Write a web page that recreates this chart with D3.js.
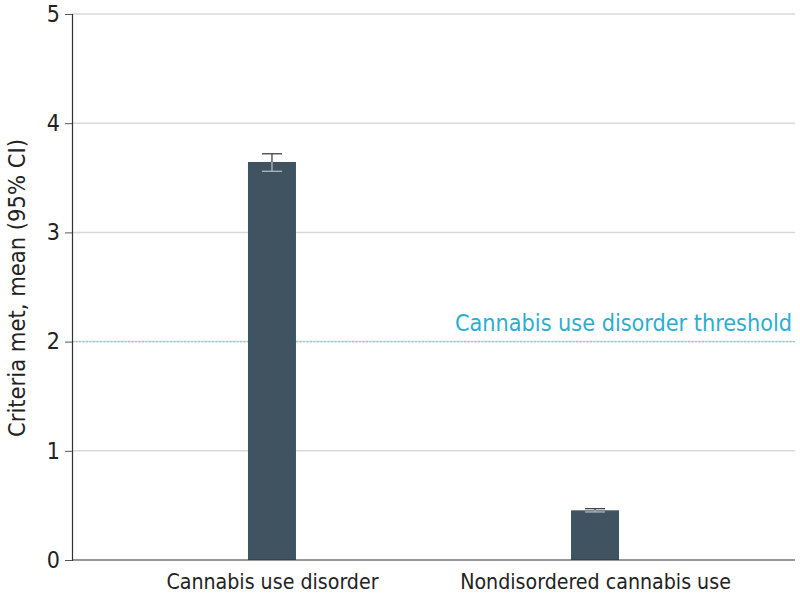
<!DOCTYPE html>
<html lang="en">
<head>
    <meta charset="UTF-8">
    <title>Criteria met</title>
    <style>
    body { margin: 0; background: #fff; }
    text { font-family: "Liberation Sans Narrow", "DejaVu Sans Condensed", "Roboto", sans-serif; }
    </style>
    <script src="https://cdn.jsdelivr.net/npm/d3@7"></script>
</head>
<body>
    <svg width="800" height="598"></svg>
    <script>
        var categories = ["Cannabis use disorder", "Nondisordered cannabis use"];
        var means = [3.645, 0.455];
        var ciLow = [3.56, 0.44];
        var ciHigh = [3.72, 0.47];
        var yTicks = [0, 1, 2, 3, 4, 5];
        var threshold = 2;
        var thresholdLabel = "Cannabis use disorder threshold";

        var svg = d3.select("svg"),
            mLeft = 72, mRight = 795, mTop = 14, mBottom = 560;

        var x = d3.scalePoint().domain(categories).range([mLeft, mRight]).padding(0.619);
        var y = d3.scaleLinear().domain([0, 5]).range([mBottom, mTop]);
        var barW = 48;

        // grid
        svg.append("g").selectAll("line").data(yTicks.filter(function(d) { return d > 0; }))
            .enter().append("line")
            .attr("x1", mLeft).attr("x2", mRight)
            .attr("y1", function(d) { return y(d); }).attr("y2", function(d) { return y(d); })
            .attr("stroke", "#d9d9d9").attr("stroke-width", 1.5);

        // threshold
        svg.append("line")
            .attr("x1", mLeft).attr("x2", mRight)
            .attr("y1", y(threshold)).attr("y2", y(threshold))
            .attr("stroke", "#8fc6d8").attr("stroke-width", 1.2)
            .attr("stroke-dasharray", "2,1.5");
        svg.append("text")
            .attr("x", 792).attr("y", y(threshold) - 11)
            .attr("text-anchor", "end")
            .attr("fill", "#2aaed3")
            .attr("font-size", 23.2)
            .text(thresholdLabel);

        // bars
        svg.append("g").selectAll("rect").data(categories)
            .enter().append("rect")
            .attr("x", function(d) { return x(d) - barW / 2; })
            .attr("width", barW)
            .attr("y", function(d, i) { return y(means[i]); })
            .attr("height", function(d, i) { return mBottom - y(means[i]); })
            .attr("fill", "#3f5361");

        // error bars
        var eb = svg.append("g").attr("stroke-width", 1.2);
        categories.forEach(function(c, i) {
            var cx = x(c);
            eb.append("line").attr("x1", cx).attr("x2", cx)
                .attr("y1", y(ciHigh[i])).attr("y2", y(means[i])).attr("stroke", "#333");
            eb.append("line").attr("x1", cx).attr("x2", cx)
                .attr("y1", y(means[i])).attr("y2", y(ciLow[i])).attr("stroke", "#b8c4cc");
            eb.append("line").attr("x1", cx - 10).attr("x2", cx + 10)
                .attr("y1", y(ciHigh[i])).attr("y2", y(ciHigh[i])).attr("stroke", "#333");
            eb.append("line").attr("x1", cx - 10).attr("x2", cx + 10)
                .attr("y1", y(ciLow[i])).attr("y2", y(ciLow[i])).attr("stroke", "#b8c4cc");
        });

        // y axis
        var yAxis = svg.append("g").attr("transform", "translate(" + mLeft + ",0)")
            .call(d3.axisLeft(y).tickValues(yTicks).tickSize(7).tickPadding(5).tickFormat(d3.format("d")));
        yAxis.select(".domain").attr("stroke", "#333").attr("stroke-width", 1.2);
        yAxis.selectAll(".tick line").attr("stroke", "#555");
        yAxis.selectAll(".tick text").attr("font-size", 23).attr("fill", "#222")
            .style("font-family", "'Liberation Sans Narrow', 'DejaVu Sans Condensed', sans-serif");

        // x axis
        var xAxis = svg.append("g").attr("transform", "translate(0," + mBottom + ")")
            .call(d3.axisBottom(x).tickSize(0).tickPadding(14));
        xAxis.select(".domain").attr("d", "M" + mLeft + ",0H" + mRight).attr("stroke", "#333").attr("stroke-width", 1.2);
        xAxis.selectAll(".tick text").attr("font-size", 21.2).attr("fill", "#222")
            .style("font-family", "'Liberation Sans Narrow', 'DejaVu Sans Condensed', sans-serif");

        svg.append("text")
            .attr("transform", "translate(25,288) rotate(-90)")
            .attr("text-anchor", "middle")
            .attr("font-size", 23.5)
            .attr("fill", "#222")
            .text("Criteria met, mean (95% CI)");
    </script>
</body>
</html>
